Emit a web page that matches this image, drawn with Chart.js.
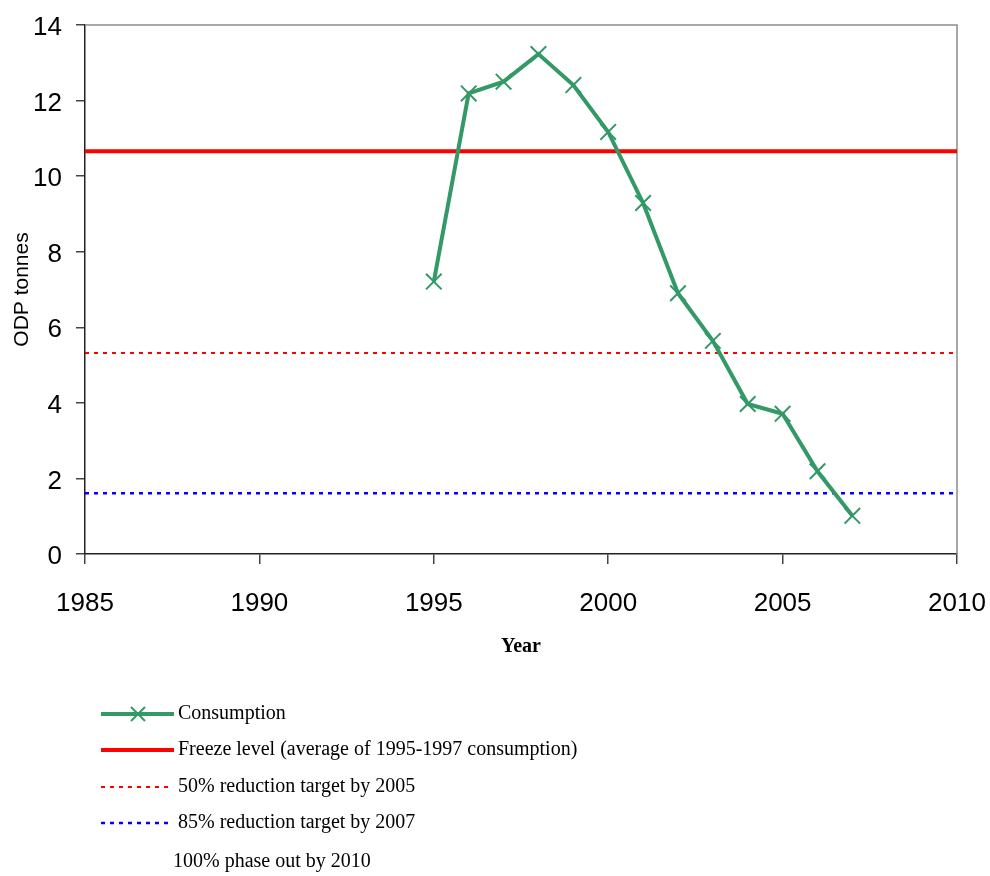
<!DOCTYPE html>
<html>
<head>
<meta charset="utf-8">
<script src="https://cdn.jsdelivr.net/npm/chart.js@4.4.0/dist/chart.umd.min.js"></script>
<style>
  html, body { margin: 0; padding: 0; background: #fff; }
</style>
</head>
<body>
<canvas id="chart" width="990" height="876"></canvas>
<script>
// values
const years = [1995, 1996, 1997, 1998, 1999, 2000, 2001, 2002, 2003, 2004, 2005, 2006, 2007]
const consumption = [7.21, 12.19, 12.50, 13.23, 12.41, 11.17, 9.29, 6.90, 5.64, 3.97, 3.71, 2.19, 1.01]
const yearRange = [1985, 2010]
const freezeLevel = 10.66
const target50 = 5.32
const target85 = 1.61
const phaseOut = 0
const seriesLabels = [
  'Consumption',
  'Freeze level (average of 1995-1997 consumption)',
  '50% reduction target by 2005',
  '85% reduction target by 2007',
  '100% phase out by 2010',
]

function flatLine(level) {
  return yearRange.map(x => ({x: x, y: level}))
}

const frame = {
  id: 'frame',
  beforeDatasetsDraw(chart) {
    const {ctx, chartArea: a} = chart
    ctx.save()
    ctx.strokeStyle = '#8c8c8c'
    ctx.lineWidth = 1.5
    ctx.beginPath()
    ctx.moveTo(a.left, a.top)
    ctx.lineTo(a.right, a.top)
    ctx.lineTo(a.right, a.bottom)
    ctx.stroke()
    ctx.restore()
  }
}

// legend below the plot, one entry per row
const rowLegend = {
  id: 'rowLegend',
  afterDraw(chart) {
    const ctx = chart.ctx
    const rows = [714, 750, 787, 823, 862]
    chart.data.datasets.forEach((ds, i) => {
      const y = rows[i]
      ctx.save()
      if (ds.borderWidth > 0) {
        ctx.strokeStyle = ds.borderColor
        ctx.lineWidth = ds.borderWidth
        ctx.setLineDash(ds.borderDash || [])
        ctx.beginPath()
        ctx.moveTo(101, y)
        ctx.lineTo(ds.borderDash ? 168 : 174, y)
        ctx.stroke()
        ctx.setLineDash([])
        if (ds.pointStyle === 'crossRot') {
          ctx.lineWidth = 2
          ctx.beginPath()
          ctx.moveTo(131, y - 7); ctx.lineTo(145, y + 7)
          ctx.moveTo(145, y - 7); ctx.lineTo(131, y + 7)
          ctx.stroke()
        }
      }
      ctx.fillStyle = '#000'
      ctx.font = '20px "Liberation Serif", "Times New Roman", serif'
      ctx.textBaseline = 'middle'
      ctx.fillText(ds.label, ds.borderWidth > 0 ? 178 : 173, y)
      ctx.restore()
    })
  }
}

new Chart(document.getElementById('chart'), {
  type: 'line',
  data: {
    datasets: [
      {
        label: seriesLabels[0],
        data: years.map((x, i) => ({x: x, y: consumption[i]})),
        borderColor: '#339966',
        backgroundColor: '#339966',
        borderWidth: 4,
        pointStyle: 'crossRot',
        pointRadius: 11,
        pointBorderWidth: 2,
        tension: 0,
        order: 0,
      },
      {
        label: seriesLabels[1],
        data: flatLine(freezeLevel),
        borderColor: '#ff0000',
        borderWidth: 4,
        pointRadius: 0,
        order: 1,
      },
      {
        label: seriesLabels[2],
        data: flatLine(target50),
        borderColor: '#ff0000',
        borderWidth: 2,
        borderDash: [4, 5],
        pointRadius: 0,
        order: 2,
      },
      {
        label: seriesLabels[3],
        data: flatLine(target85),
        borderColor: '#0000ff',
        borderWidth: 2.5,
        borderDash: [4, 5],
        pointRadius: 0,
        order: 3,
      },
      {
        label: seriesLabels[4],
        data: flatLine(phaseOut),
        borderColor: 'rgba(0,0,0,0)',
        borderWidth: 0,
        pointRadius: 0,
        order: 4,
      },
    ]
  },
  options: {
    responsive: false,
    devicePixelRatio: 1,
    animation: false,
    events: [],
    layout: {
      padding: {top: 25, right: 33, bottom: 212, left: 0}
    },
    plugins: {
      legend: {display: false},
      tooltip: {enabled: false},
    },
    scales: {
      x: {
        type: 'linear',
        min: yearRange[0],
        max: yearRange[1],
        afterFit: (s) => { s.height = 110; s.paddingLeft = 0; s.paddingRight = 0 },
        ticks: {
          stepSize: 5,
          color: '#000',
          padding: 24,
          maxRotation: 0,
          font: {family: '"Liberation Sans", Arial, sans-serif', size: 26},
          callback: (v) => String(v),
        },
        grid: {drawOnChartArea: false, drawTicks: true, tickLength: 10, color: '#444', lineWidth: 1.5},
        border: {color: '#222', width: 1.5},
        title: {
          display: true,
          text: 'Year',
          color: '#000',
          padding: {top: 5, bottom: 5},
          font: {family: '"Liberation Serif", "Times New Roman", serif', size: 20, weight: 'bold'},
        },
      },
      y: {
        min: 0,
        max: 14,
        afterFit: (s) => { s.width = 85; s.paddingTop = 0; s.paddingBottom = 0 },
        ticks: {
          stepSize: 2,
          color: '#000',
          padding: 14,
          labelOffset: 3,
          font: {family: '"Liberation Sans", Arial, sans-serif', size: 26},
        },
        grid: {drawOnChartArea: false, drawTicks: true, tickLength: 9, color: '#444', lineWidth: 1.5},
        border: {color: '#222', width: 1.5},
        title: {
          display: true,
          text: 'ODP tonnes',
          color: '#000',
          padding: {top: 10, bottom: 10},
          font: {family: '"Liberation Sans", Arial, sans-serif', size: 21},
        },
      },
    }
  },
  plugins: [frame, rowLegend]
})
</script>
</body>
</html>
